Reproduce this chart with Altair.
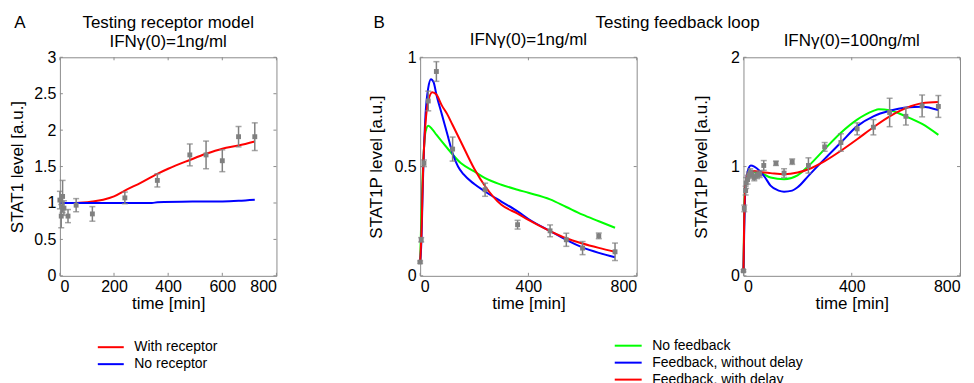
import altair as alt
import pandas as pd

FONT = "Liberation Sans"
RED, BLUE, GREEN = "#ff0000", "#0000ff", "#00ff00"
GRAY = "#808080"
FRAME = "#8c8c8c"
W, H = 217, 219

# ---------------- Texts ----------------
title_a = ["Testing receptor model", "IFNγ(0)=1ng/ml"]
title_b = "Testing feedback loop"
title_b1 = "IFNγ(0)=1ng/ml"
title_b2 = "IFNγ(0)=100ng/ml"
letters = ["A", "B"]

# ---------------- Panel A: testing receptor model ----------------
a_names = ["With receptor", "No receptor"]
a_colors = [RED, BLUE]
a_red_t = [0, 60, 120, 160, 200, 240, 300, 360, 400, 480, 540, 600, 660, 720]
a_red_y = [1.0, 1.0, 1.02, 1.045, 1.09, 1.17, 1.28, 1.40, 1.47, 1.59, 1.675, 1.745, 1.79, 1.845]
a_blue_t = [0, 120, 240, 340, 360, 500, 600, 660, 720]
a_blue_y = [1.0, 1.0, 1.0, 1.0, 1.01, 1.02, 1.022, 1.03, 1.045]
a_pts_t = [0, 5, 10, 15, 30, 60, 120, 240, 360, 480, 540, 600, 660, 720]
a_pts_y = [1.04, 0.82, 1.09, 0.93, 0.82, 0.97, 0.85, 1.07, 1.31, 1.66, 1.66, 1.58, 1.91, 1.91]
a_pts_e = [0.12, 0.16, 0.22, 0.10, 0.09, 0.09, 0.10, 0.08, 0.09, 0.15, 0.19, 0.15, 0.14, 0.19]

# ---------------- Panel B: testing feedback loop ----------------
b_names = ["No feedback", "Feedback, without delay", "Feedback, with delay"]
b_colors = [GREEN, BLUE, RED]

# IFNg(0) = 1 ng/ml
b1_green_t = [0, 5, 10, 15, 20, 30, 45, 60, 100, 150, 200, 240, 300, 360, 400, 480, 540, 600, 660, 720]
b1_green_y = [0.06, 0.30, 0.48, 0.60, 0.66, 0.687, 0.67, 0.646, 0.585, 0.516, 0.478, 0.447, 0.417, 0.394, 0.38, 0.35, 0.315, 0.28, 0.25, 0.22]
b1_blue_t = [0, 5, 10, 20, 30, 40, 50, 60, 80, 100, 120, 140, 160, 200, 240, 300, 360, 400, 480, 540, 600, 660, 720]
b1_blue_y = [0.06, 0.17, 0.42, 0.74, 0.86, 0.90, 0.885, 0.83, 0.74, 0.65, 0.56, 0.50, 0.465, 0.42, 0.386, 0.34, 0.295, 0.26, 0.205, 0.165, 0.13, 0.105, 0.085]
b1_red_t = [0, 5, 10, 20, 30, 45, 60, 80, 100, 120, 150, 200, 240, 300, 360, 400, 480, 540, 600, 660, 720]
b1_red_y = [0.06, 0.20, 0.45, 0.70, 0.80, 0.84, 0.83, 0.78, 0.74, 0.69, 0.615, 0.49, 0.41, 0.325, 0.285, 0.256, 0.205, 0.172, 0.148, 0.128, 0.11]
b1_pts_t = [0, 4, 14, 30, 60, 120, 240, 360, 480, 540, 600, 660, 720]
b1_pts_y = [0.063, 0.165, 0.515, 0.80, 0.935, 0.58, 0.394, 0.234, 0.206, 0.165, 0.127, 0.183, 0.11]
b1_pts_e = [0.005, 0.01, 0.015, 0.045, 0.045, 0.055, 0.03, 0.02, 0.027, 0.03, 0.03, 0.013, 0.04]

# IFNg(0) = 100 ng/ml
b2_green_t = [0, 3, 6, 10, 15, 20, 30, 60, 100, 150, 200, 240, 300, 360, 420, 480, 500, 540, 600, 660, 720]
b2_green_y = [0.04, 0.60, 0.78, 0.87, 0.92, 0.94, 0.95, 0.945, 0.90, 0.885, 0.92, 1.005, 1.16, 1.31, 1.43, 1.51, 1.525, 1.515, 1.46, 1.39, 1.29]
b2_blue_t = [0, 3, 6, 10, 15, 20, 27, 40, 60, 80, 100, 130, 150, 180, 200, 240, 300, 360, 420, 480, 540, 600, 660, 720]
b2_blue_y = [0.04, 0.45, 0.75, 0.88, 0.95, 0.99, 1.01, 1.0, 0.96, 0.90, 0.825, 0.78, 0.77, 0.78, 0.81, 0.915, 1.07, 1.22, 1.37, 1.46, 1.51, 1.54, 1.548, 1.517]
b2_red_t = [0, 3, 6, 10, 15, 20, 40, 60, 100, 150, 200, 240, 300, 360, 420, 480, 540, 600, 660, 720]
b2_red_y = [0.04, 0.55, 0.78, 0.88, 0.93, 0.945, 0.96, 0.95, 0.94, 0.93, 0.945, 0.975, 1.05, 1.145, 1.25, 1.36, 1.46, 1.535, 1.58, 1.59]
b2_pts_t = [0, 3, 8, 10, 15, 20, 25, 30, 40, 50, 60, 75, 120, 150, 180, 240, 300, 360, 420, 480, 540, 600, 660, 720]
b2_pts_y = [0.046, 0.617, 0.78, 0.85, 0.88, 0.92, 0.95, 0.93, 0.90, 0.92, 0.93, 1.01, 1.03, 0.94, 1.045, 1.01, 1.18, 1.22, 1.345, 1.36, 1.495, 1.46, 1.555, 1.55]
b2_pts_e = [0.01, 0.03, 0.04, 0.05, 0.04, 0.03, 0.03, 0.03, 0.03, 0.03, 0.03, 0.045, 0.02, 0.04, 0.025, 0.07, 0.04, 0.08, 0.055, 0.07, 0.13, 0.08, 0.10, 0.10]

x_ticks_a = [0, 200, 400, 600, 800]
x_ticks_b = [0, 400, 800]
y_ticks_a = [0, 0.5, 1, 1.5, 2, 2.5, 3]
y_ticks_b1 = [0, 0.5, 1]
y_ticks_b2 = [0, 1, 2]


def label(text, x, y):
    return alt.Chart(pd.DataFrame({"lab": [text]})).mark_text(
        font=FONT, fontSize=17, align="center", baseline="alphabetic", color="black").encode(
        text="lab:N", x=alt.value(x), y=alt.value(y))


def panel(series, names, colors, pts, ydom, xticks, yticks, ytitle, texts,
          legend, ytitle_pad):
    xs = alt.Scale(domain=[0, 800], nice=False)
    ys = alt.Scale(domain=ydom, nice=False)
    cs = alt.Scale(domain=names, range=colors)
    xax = alt.Axis(values=xticks, labelPadding=3, titlePadding=1,
                   labelExpr="'' + datum.value")
    yax = alt.Axis(values=yticks, labelPadding=4, titlePadding=ytitle_pad,
                   labelExpr="'' + datum.value")

    def X(f):
        return alt.X(f, scale=xs, title="time [min]", axis=xax)

    def Y(f):
        return alt.Y(f, scale=ys, title=ytitle, axis=yax)

    layers = []
    first = True
    for name, ts, vs in series:
        df = pd.DataFrame({"t": ts, "y": vs, "series": name})
        layers.append(alt.Chart(df).mark_line(strokeWidth=2, interpolate="monotone").encode(
            x=X("t:Q"), y=Y("y:Q"),
            color=alt.Color("series:N", scale=cs, legend=legend if first else None)))
        first = False
    # inner ticks (MATLAB style)
    dfx = pd.DataFrame({"v": xticks})
    dfy = pd.DataFrame({"v": yticks})
    for y0, y1 in [(H, H - 3), (0, 3)]:
        layers.append(alt.Chart(dfx).mark_rule(color=FRAME, strokeWidth=1).encode(
            x=X("v:Q"), y=alt.value(y0), y2=alt.value(y1)))
    for x0, x1 in [(0, 3), (W, W - 3)]:
        layers.append(alt.Chart(dfy).mark_rule(color=FRAME, strokeWidth=1).encode(
            y=Y("v:Q"), x=alt.value(x0), x2=alt.value(x1)))
    pt, py, pe = pts
    dfp = pd.DataFrame({"t": pt, "y": py,
                        "lo": [a - b for a, b in zip(py, pe)],
                        "hi": [a + b for a, b in zip(py, pe)]})
    layers.append(alt.Chart(dfp).mark_errorbar(ticks=True, size=6, thickness=1.5, color=GRAY).encode(
        x=X("t:Q"), y=Y("lo:Q"), y2="hi:Q"))
    layers.append(alt.Chart(dfp).mark_square(size=24, color=GRAY, opacity=1).encode(
        x=X("t:Q"), y=Y("y:Q")))
    for text, x, y in texts:
        layers.append(label(text, x, y))
    return alt.layer(*layers).properties(width=W, height=H)


# a long, flat line symbol that does not make the legend rows tall
LINE_SYMBOL = "M-2,0H2"

legend_a = alt.Legend(title=None, orient="none", legendX=43.5, legendY=283,
                      symbolType=LINE_SYMBOL, symbolSize=169, symbolStrokeWidth=2,
                      labelFont=FONT, labelFontSize=14, labelOffset=16, padding=0,
                      rowPadding=2)
legend_b = alt.Legend(title=None, orient="none", legendX=200.5, legendY=281,
                      symbolType=LINE_SYMBOL, symbolSize=182, symbolStrokeWidth=2,
                      labelFont=FONT, labelFontSize=14, labelOffset=16, padding=0,
                      rowPadding=2)

chart_a = panel(
    [("With receptor", a_red_t, a_red_y), ("No receptor", a_blue_t, a_blue_y)],
    a_names, a_colors, (a_pts_t, a_pts_y, a_pts_e), [0, 3], x_ticks_a, y_ticks_a,
    "STAT1 level [a.u.]",
    [(letters[0], -40, -29), (title_a[0], W / 2, -29), (title_a[1], W / 2, -10)],
    legend_a, 7)

chart_b1 = panel(
    [("No feedback", b1_green_t, b1_green_y), ("Feedback, without delay", b1_blue_t, b1_blue_y),
     ("Feedback, with delay", b1_red_t, b1_red_y)],
    b_names, b_colors, (b1_pts_t, b1_pts_y, b1_pts_e), [0, 1], x_ticks_b, y_ticks_b1,
    "STAT1P level [a.u.]",
    [(letters[1], -41, -29), (title_b, 258, -29), (title_b1, W / 2, -12)],
    legend_b, 8)

chart_b2 = panel(
    [("No feedback", b2_green_t, b2_green_y), ("Feedback, without delay", b2_blue_t, b2_blue_y),
     ("Feedback, with delay", b2_red_t, b2_red_y)],
    b_names, b_colors, (b2_pts_t, b2_pts_y, b2_pts_e), [0, 2], x_ticks_b, y_ticks_b2,
    "STAT1P level [a.u.]",
    [(title_b2, W / 2, -11)],
    None, 20)

group_b = alt.HConcatChart(hconcat=[chart_b1, chart_b2], spacing=107, bounds="flush"
                           ).resolve_scale(color="independent")

chart = alt.HConcatChart(hconcat=[chart_a, group_b], spacing=144, bounds="flush",
                         padding={"left": 0, "top": 5, "right": 5, "bottom": 0}
                         ).resolve_scale(color="independent").configure_axis(
    labelFont=FONT, titleFont=FONT, labelFontSize=16, titleFontSize=17,
    titleFontWeight="normal", grid=False, domain=False, ticks=False,
    labelColor="black", titleColor="black"
).configure_view(stroke=FRAME, strokeWidth=1)

chart.save("out.html", embed_options={"renderer": "svg", "actions": False})
